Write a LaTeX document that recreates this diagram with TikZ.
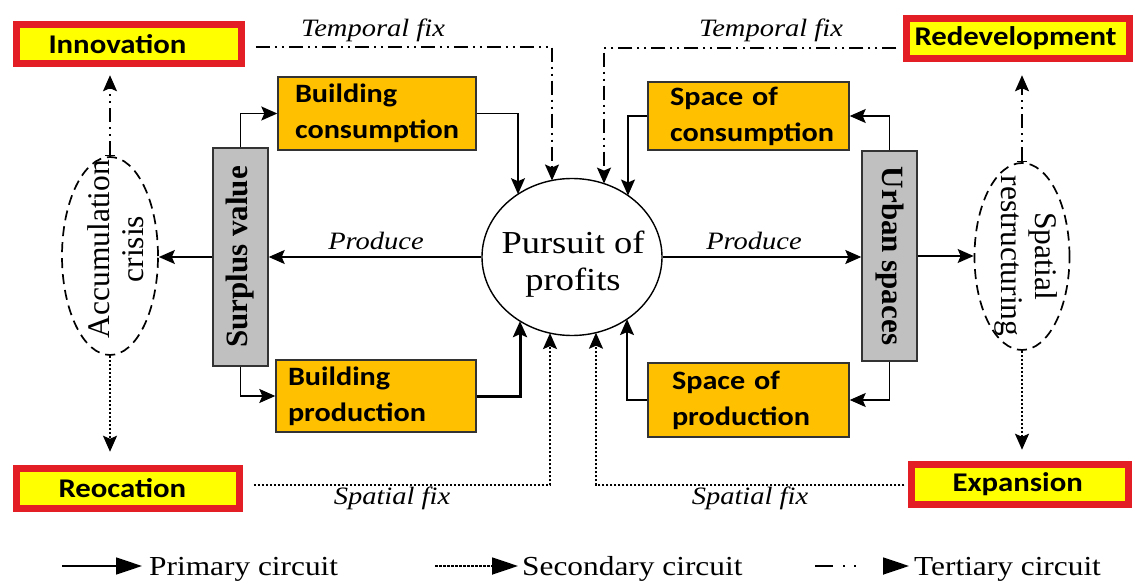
\documentclass[tikz,border=0pt]{standalone}
\usepackage{fontspec}
\usepackage{graphicx}
\setmainfont{Liberation Serif}
\newfontfamily\calfont{Carlito}[FakeStretch=1.14]
\newfontfamily\serifst{Liberation Serif}[FakeStretch=1.14]
\usetikzlibrary{arrows.meta,calc,shapes.geometric}
\definecolor{boxred}{HTML}{E31E24}
\definecolor{boxyellow}{HTML}{FFFF00}
\definecolor{boxgold}{HTML}{FFC000}
\definecolor{greyfill}{HTML}{C0C0C0}
\begin{document}
\begin{tikzpicture}[x=1pt,y=-1pt,
  headtip/.style={arrows={-Stealth[length=16pt,width=14pt,inset=3pt]}},
  primary/.style={line width=1.4pt, headtip},
  secondary/.style={line width=1.8pt, dash pattern=on 2.5pt off 1.5pt, headtip},
  tertiary/.style={line width=1.6pt, dash pattern=on 14pt off 5pt on 2pt off 5pt on 2pt off 5pt, headtip},
  tertiarybar/.style={line width=1.6pt, dash pattern=on 14pt off 5pt on 2pt off 5pt on 2pt off 5pt,
     arrows={Bar[width=10pt,line width=1.6pt]-Stealth[length=16pt,width=14pt,inset=3pt]}},
  redbox/.style={draw=boxred, line width=7.5pt, fill=boxyellow, inner sep=0pt, align=left,
     font=\calfont\bfseries\fontsize{27pt}{30pt}\selectfont},
  orangebox/.style={draw=black!80, line width=1.4pt, fill=boxgold, inner sep=0pt, align=left,
     font=\calfont\bfseries\fontsize{26.5pt}{36pt}\selectfont},
  greyboxst/.style={draw=black!80, line width=1.4pt, fill=greyfill, inner sep=0pt,
     font=\bfseries\fontsize{31pt}{33pt}\selectfont},
  dashedell/.style={ellipse, draw, line width=1.7pt, dash pattern=on 10pt off 6pt, inner sep=0pt},
  lbl/.style={inner sep=0pt, font=\serifst\itshape\fontsize{25pt}{28pt}\selectfont},
  legtext/.style={inner sep=0pt, font=\serifst\fontsize{27.5pt}{30pt}\selectfont},
  legtip/.style={arrows={-Triangle[length=26pt,width=17pt]}}
]
\useasboundingbox (0,0) rectangle (1135,585);

% red/yellow boxes
\node[redbox, text width=225pt, minimum height=39pt] (inno) at (129,44) {\hspace*{32pt}Innovation};
\node[redbox, text width=223pt, minimum height=40pt] (redev) at (1018,38.5) {\hspace*{8pt}Redevelopment};
\node[redbox, text width=223pt, minimum height=40pt] (reoc) at (128,488.5) {\hspace*{42pt}Reocation};
\node[redbox, text width=217pt, minimum height=40pt] (expa) at (1020,484.5) {\hspace*{41pt}Expansion};

% orange boxes
\node[orangebox, text width=198pt, minimum height=73pt] (bc) at (377,113.5) {\hspace*{17pt}Building\\\hspace*{17pt}consumption};
\node[orangebox, text width=200pt, minimum height=72pt] (bp) at (376,396) {\hspace*{12pt}Building\\\hspace*{12pt}production};
\node[orangebox, text width=201pt, minimum height=68pt] (soc) at (748.5,116) {\hspace*{22pt}Space of\\\hspace*{22pt}consumption};
\node[orangebox, text width=201pt, minimum height=74pt] (sop) at (748.5,400) {\hspace*{24pt}Space of\\\hspace*{24pt}production};

% grey boxes
\node[greyboxst, minimum width=55pt, minimum height=218pt] (sv) at (240.5,257) {\rotatebox{90}{Surplus value}};
\node[greyboxst, minimum width=55pt, minimum height=210pt] (us) at (889.5,256) {\rotatebox{-90}{Urban spaces}};

% dashed ellipses
\node[dashedell, minimum width=96pt, minimum height=198pt] (acc) at (110,256) {};
\node[inner sep=0pt, font=\fontsize{31.5pt}{34pt}\selectfont] (acctext) at (120,249)
  {\rotatebox{90}{\begin{tabular}{@{}c@{}}Accumulation\\crisis\end{tabular}}};
\node[dashedell, minimum width=95pt, minimum height=187pt] (spr) at (1022,256.5) {};
\node[inner sep=0pt, font=\fontsize{31.5pt}{34pt}\selectfont] (sprtext) at (1025,256)
  {\rotatebox{-90}{\begin{tabular}{@{}c@{}}Spatial\\restructuring\end{tabular}}};

% central ellipse
\node[draw, ellipse, line width=1.4pt, minimum width=180pt, minimum height=157pt, inner sep=0pt] (circ) at (572,257) {};
\node[inner sep=0pt, align=center, font=\serifst\fontsize{32pt}{37pt}\selectfont] (circtext) at (573,264) {Pursuit of\\profits};

% points on the central ellipse
\coordinate (cBC) at ($(circ.center)+(-54,-62.8)$);
\coordinate (cTFL) at ($(circ.center)+(-20,-76.5)$);
\coordinate (cTFR) at ($(circ.center)+(32,-73.4)$);
\coordinate (cSOC) at ($(circ.center)+(56,-61.5)$);
\coordinate (cBP) at ($(circ.center)+(-52,64.1)$);
\coordinate (cSFL) at ($(circ.center)+(-22,76.1)$);
\coordinate (cSFR) at ($(circ.center)+(24,75.7)$);
\coordinate (cSOP) at ($(circ.center)+(55,62.1)$);

% primary circuit
\draw[primary] (circ.west) -- (circ.west -| sv.east);
\draw[primary] (circ.east) -- (circ.east -| us.west);
\draw[primary] (sv.west) -- (sv.west -| acc.east);
\draw[primary] (us.east) -- (us.east -| spr.west);
\draw[primary] (sv.north) |- (bc.west);
\draw[primary] (sv.south) |- (bp.west);
\draw[primary] (us.north) |- (soc.east);
\draw[primary] (us.south) |- (sop.east);
\draw[primary] (bc.east) -| (cBC);
\draw[primary, line width=3pt] (bp.east) -| (cBP);
\draw[primary] (soc.west) -| (cSOC);
\draw[primary] (sop.west) -| (cSOP);

% tertiary circuit (temporal fix)
\draw[tertiary] ($(inno.east)+(10.5,3)$) -| (cTFL);
\draw[tertiary] ($(redev.west)+(-6.5,9.5)$) -| (cTFR);
\draw[tertiarybar, shorten >=8pt] (acc.north) -- (acc.north |- inno.south);
\draw[tertiarybar, shorten >=13pt] (spr.north) -- (spr.north |- redev.south);

% secondary circuit (spatial fix)
\draw[secondary] ($(reoc.east)+(10.5,-3.5)$) -| (cSFL);
\draw[secondary] ($(expa.west)+(-3.5,0.5)$) -| (cSFR);
\draw[secondary, shorten >=13pt] (acc.south) -- (acc.south |- reoc.north);
\draw[secondary, shorten >=11pt] (spr.south) -- (spr.south |- expa.north);

% labels
\node[lbl, anchor=base] (tfl) at (373,37) {Temporal fix};
\node[lbl, anchor=base] (tfr) at (771,37) {Temporal fix};
\node[lbl, anchor=base] (prl) at (376,250) {Produce};
\node[lbl, anchor=base] (prr) at (754,250) {Produce};
\node[lbl, anchor=base] (sfl) at (392,504) {Spatial fix};
\node[lbl, anchor=base] (sfr) at (750,504) {Spatial fix};

% legend
\node[legtext, anchor=base west] (lt1) at (149,575) {Primary circuit};
\node[legtext, anchor=base west] (lt2) at (522,575) {Secondary circuit};
\node[legtext, anchor=base west] (lt3) at (914,575) {Tertiary circuit};
\coordinate (la1) at (62,566);
\coordinate (la2) at (435,566);
\coordinate (la3) at (815,566);
\draw[line width=1.6pt, legtip, shorten >=7pt] (la1) -- (la1 -| lt1.west);
\draw[line width=1.8pt, legtip, dash pattern=on 2.5pt off 1.5pt, shorten >=4pt] (la2) -- (la2 -| lt2.west);
\draw[line width=1.8pt, legtip, dash pattern=on 18pt off 10pt on 2pt off 9pt on 2pt off 40pt, shorten >=5pt] (la3) -- (la3 -| lt3.west);
\end{tikzpicture}
\end{document}
